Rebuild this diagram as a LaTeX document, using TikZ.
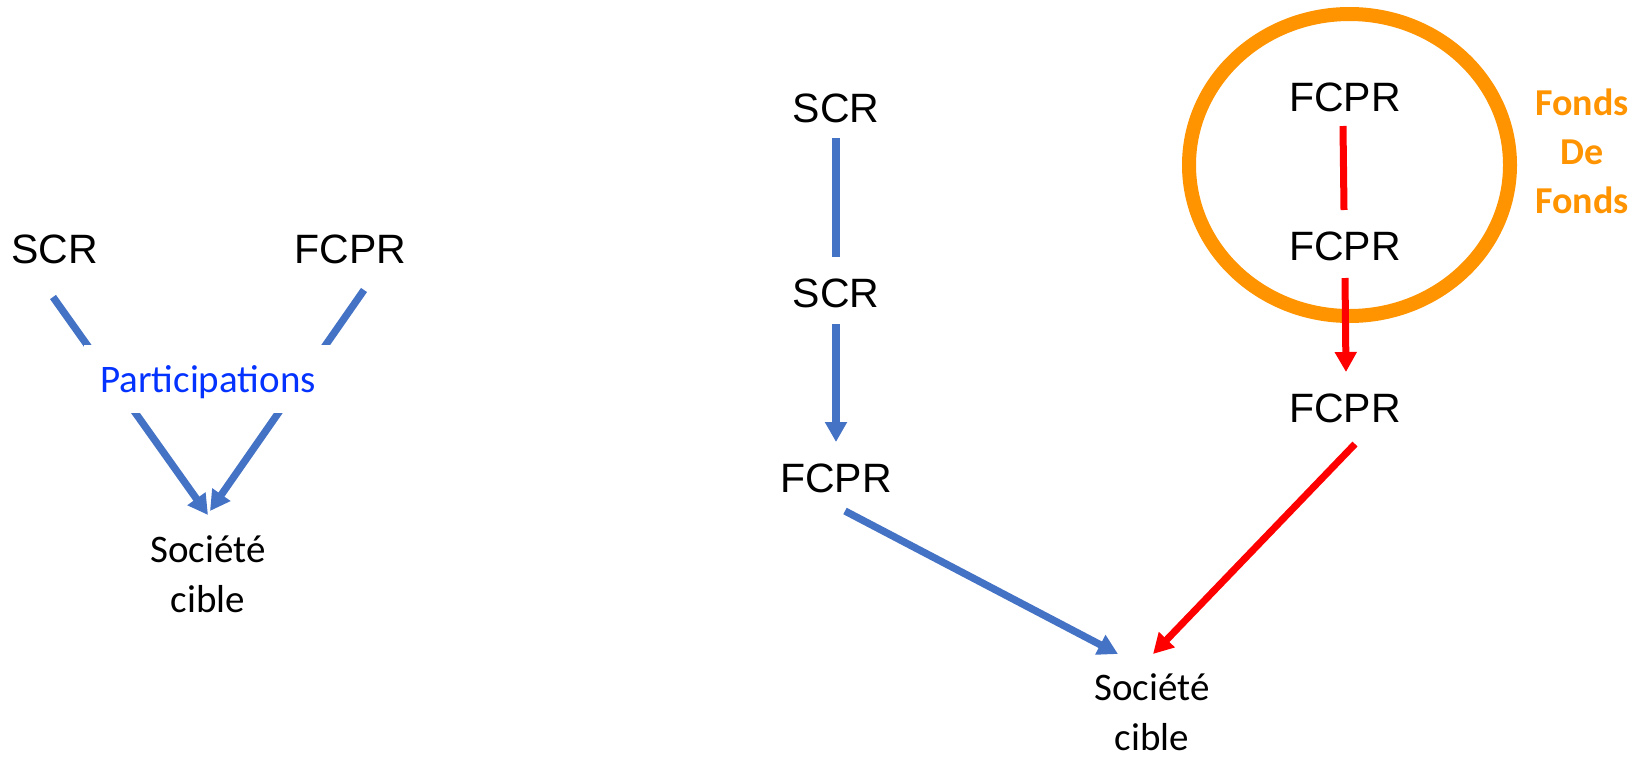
\documentclass[tikz,border=0pt]{standalone}
\usepackage{fontspec}
\setmainfont{Liberation Sans}
\newfontfamily\calibri{Carlito}
\usetikzlibrary{arrows.meta}
\definecolor{cblue}{HTML}{4472C4}
\definecolor{cred}{HTML}{FF0000}
\definecolor{corange}{HTML}{FF9300}
\definecolor{pblue}{HTML}{0433FF}
\begin{document}
\begin{tikzpicture}[x=1pt,y=-1pt,
  arial/.style={font=\fontsize{41}{49}\selectfont, inner sep=0pt, anchor=base},
  cal/.style={font=\calibri\fontsize{39}{50}\selectfont, inner sep=0pt, anchor=base, align=center},
  calb/.style={font=\calibri\bfseries\fontsize{38}{49}\selectfont, inner sep=0pt, anchor=base, align=center, text=corange},
  bl/.style={draw=cblue, line width=7.3pt},
  rd/.style={draw=cred, line width=7pt},
  tipb/.style={-{Triangle[length=20pt,width=21pt]}},
]
\useasboundingbox (0,0) rectangle (1649,758);

% ---------- left diagram ----------
\node[arial] (scrL) at (54.5,263) {SCR};
\node[arial] (fcprL) at (350.5,263) {FCPR};
\node[cal] (socL) at (208,612) {Société\\cible};
\coordinate (l1s) at (53,297);
\coordinate (l1e) at (208,515);
\coordinate (l2s) at (364,290);
\coordinate (l2e) at (210,511);
\draw[bl,tipb,fill=cblue] (l1s) -- (l1e);
\draw[bl,tipb,fill=cblue] (l2s) -- (l2e);
\node[font=\calibri\fontsize{39}{47}\selectfont, text=pblue, fill=white,
      text height=30pt, text depth=4pt, inner ysep=17pt, inner xsep=16pt, anchor=base]
      (part) at (208,392) {Participations};

% ---------- middle chain ----------
\node[arial] (scr1) at (836,122) {SCR};
\node[arial] (scr2) at (836,307) {SCR};
\node[arial] (fcpr1) at (836,492) {FCPR};
\node[cal] (socR) at (1152,750) {Société\\cible};
\coordinate (m1s) at (836,138);
\coordinate (m1e) at (836,257);
\coordinate (m2s) at (836,324);
\coordinate (m2e) at (836,442);
\coordinate (m3s) at (845,511);
\coordinate (m3e) at (1118,654);
\draw[bl] (m1s) -- (m1e);
\draw[bl,tipb,fill=cblue] (m2s) -- (m2e);
\draw[bl,tipb,fill=cblue] (m3s) -- (m3e);

% ---------- right chain ----------
\coordinate (fdfc) at (1349.5,165);
\draw[corange, line width=14pt] (fdfc) ellipse [x radius=160.5pt, y radius=151pt];
\node[arial] (f1) at (1345,111) {FCPR};
\node[arial] (f2) at (1345,260) {FCPR};
\node[arial] (f3) at (1345,422) {FCPR};
\node[calb] (fdf) at (1582,213) {Fonds\\De\\Fonds};
\coordinate (r1s) at (1343,126);
\coordinate (r1e) at (1344,210);
\coordinate (r2s) at (1345,278);
\coordinate (r2e) at (1346,372);
\coordinate (r3s) at (1355,444);
\coordinate (r3e) at (1153,654);
\draw[rd] (r1s) -- (r1e);
\draw[rd,tipb,fill=cred] (r2s) -- (r2e);
\draw[rd,tipb,fill=cred] (r3s) -- (r3e);
\end{tikzpicture}
\end{document}
